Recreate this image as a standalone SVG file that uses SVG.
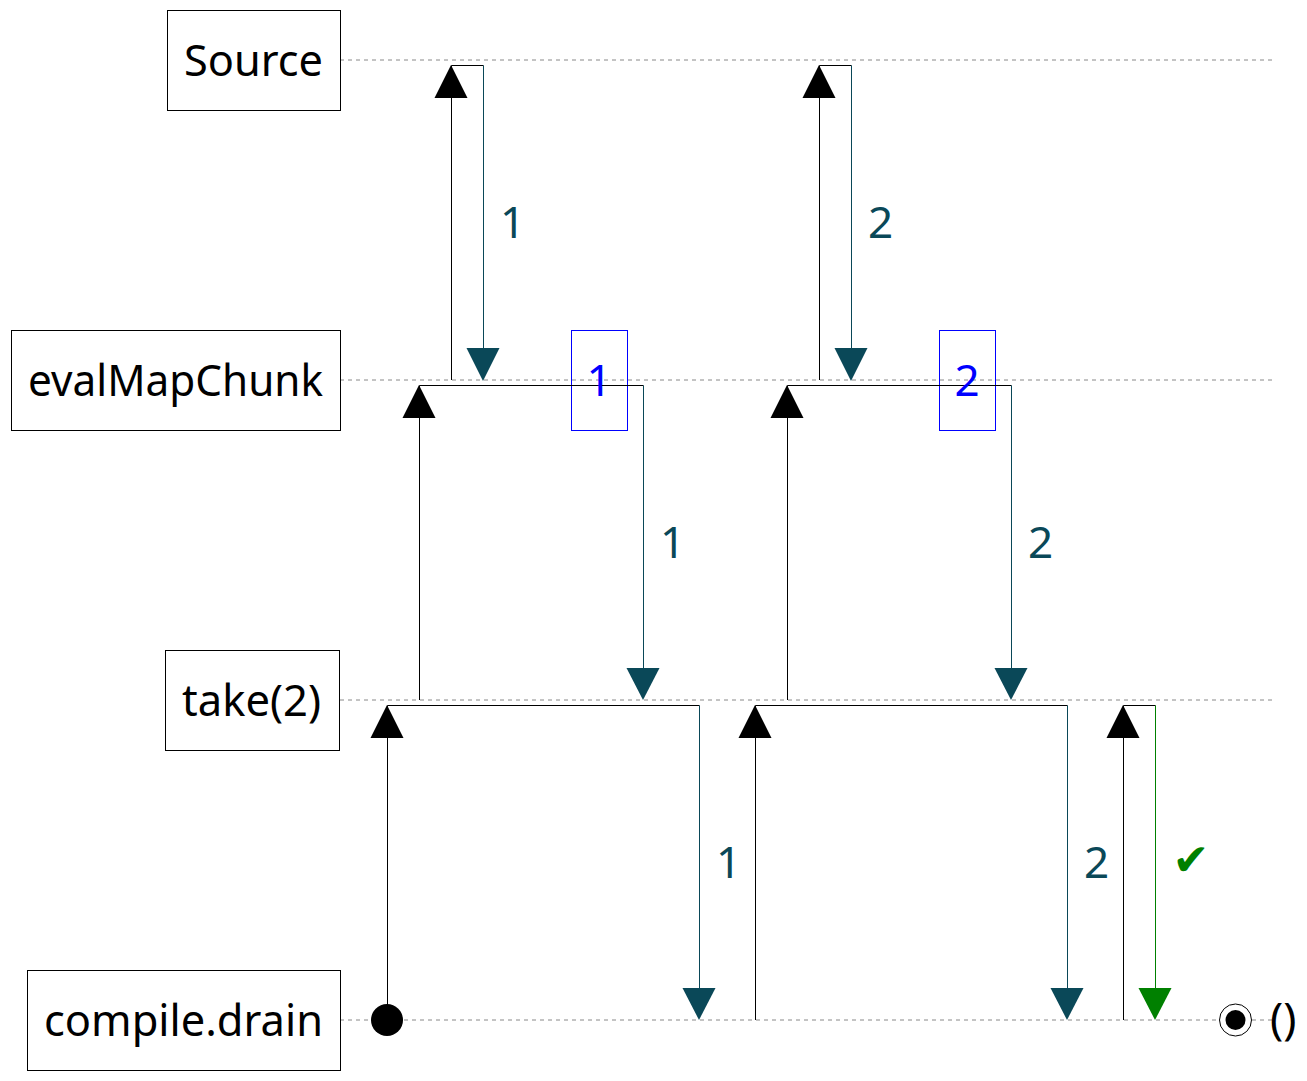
<svg xmlns="http://www.w3.org/2000/svg" width="1307" height="1081" viewBox="0 0 1307 1081">
<style>
.box{fill:#fff;stroke:#000;stroke-width:1}
.nt{font-family:"Noto Sans","Open Sans",sans-serif;font-size:44px;fill:#000;text-anchor:end}
.life{stroke:#888;stroke-width:1;stroke-dasharray:4 4;fill:none}
.up{stroke:#000;stroke-width:1;fill:none}
.dn{stroke:#0a4858;stroke-width:1;fill:none}
.dng{stroke:#008000;stroke-width:1;fill:none}
.ah{fill:#000}
.ahd{fill:#0a4858}
.ahg{fill:#008000}
.lbl{font-family:"Noto Sans","Open Sans",sans-serif;font-size:44px;fill:#0a4858}
.bb{fill:none;stroke:#0000ff;stroke-width:1}
.bt{font-family:"Noto Sans","Open Sans",sans-serif;font-size:44px;fill:#0000ff;text-anchor:middle}
</style>
<rect width="1307" height="1081" fill="#fff"/>
<g id="lifelines">
<line class="life" x1="340" y1="60" x2="1272" y2="60"/>
<line class="life" x1="340" y1="380" x2="1272" y2="380"/>
<line class="life" x1="340" y1="700" x2="1272" y2="700"/>
<line class="life" x1="340" y1="1020" x2="1272" y2="1020"/>
</g>
<g id="node-source"><rect class="box" x="167.5" y="10.5" width="173" height="100"/><text class="nt" x="323" y="76" textLength="139" lengthAdjust="spacingAndGlyphs">Source</text></g>
<g id="node-evalMapChunk"><rect class="box" x="11.5" y="330.5" width="329" height="100"/><text class="nt" x="323" y="396" textLength="295" lengthAdjust="spacingAndGlyphs">evalMapChunk</text></g>
<g id="node-take"><rect class="box" x="165.5" y="650.5" width="174" height="100"/><text class="nt" x="321" y="716" textLength="139" lengthAdjust="spacingAndGlyphs">take(2)</text></g>
<g id="node-drain"><rect class="box" x="27.5" y="970.5" width="313" height="100"/><text class="nt" x="323" y="1036" textLength="279" lengthAdjust="spacingAndGlyphs">compile.drain</text></g>
<g id="chunk-1"><rect class="bb" x="571.5" y="330.5" width="56" height="100"/></g>
<g id="chunk-2"><rect class="bb" x="939.5" y="330.5" width="56" height="100"/></g>
<g id="connectors">
<circle cx="387" cy="1020" r="16" fill="#000"/>
<polyline class="up" points="387.5,1020 387.5,705.5 699.5,705.5"/>
<line class="dn" x1="699.5" y1="705.5" x2="699.5" y2="1000"/>
<polygon class="ah" points="387,705 370.5,738 403.5,738"/>
<polygon class="ahd" points="699,1020 682.5,988 715.5,988"/>
<text class="lbl" x="716" y="878">1</text>

<polyline class="up" points="419.5,700 419.5,385.5 643.5,385.5"/>
<line class="dn" x1="643.5" y1="385.5" x2="643.5" y2="680"/>
<polygon class="ah" points="419,385 402.5,418 435.5,418"/>
<polygon class="ahd" points="643,700 626.5,668 659.5,668"/>
<text class="lbl" x="660" y="558">1</text>

<polyline class="up" points="451.5,380 451.5,65.5 483.5,65.5"/>
<line class="dn" x1="483.5" y1="65.5" x2="483.5" y2="360"/>
<polygon class="ah" points="451,65 434.5,98 467.5,98"/>
<polygon class="ahd" points="483,381 466.5,348 499.5,348"/>
<text class="lbl" x="500" y="238">1</text>

<polyline class="up" points="755.5,1020 755.5,705.5 1067.5,705.5"/>
<line class="dn" x1="1067.5" y1="705.5" x2="1067.5" y2="1000"/>
<polygon class="ah" points="755,705 738.5,738 771.5,738"/>
<polygon class="ahd" points="1067,1020 1050.5,988 1083.5,988"/>
<text class="lbl" x="1084" y="878">2</text>

<polyline class="up" points="787.5,700 787.5,385.5 1011.5,385.5"/>
<line class="dn" x1="1011.5" y1="385.5" x2="1011.5" y2="680"/>
<polygon class="ah" points="787,385 770.5,418 803.5,418"/>
<polygon class="ahd" points="1011,700 994.5,668 1027.5,668"/>
<text class="lbl" x="1028" y="558">2</text>

<polyline class="up" points="819.5,380 819.5,65.5 851.5,65.5"/>
<line class="dn" x1="851.5" y1="65.5" x2="851.5" y2="360"/>
<polygon class="ah" points="819,65 802.5,98 835.5,98"/>
<polygon class="ahd" points="851,381 834.5,348 867.5,348"/>
<text class="lbl" x="868" y="238">2</text>

<polyline class="up" points="1123.5,1020 1123.5,705.5 1155.5,705.5"/>
<line class="dng" x1="1155.5" y1="705.5" x2="1155.5" y2="1000"/>
<polygon class="ah" points="1123,705 1106.5,738 1139.5,738"/>
<polygon class="ahg" points="1155,1020 1138.5,988 1171.5,988"/>
<text x="1191" y="875" font-family="DejaVu Sans,sans-serif" font-size="44" fill="#008000" text-anchor="middle">✔</text>

<circle cx="1235.5" cy="1020" r="16" fill="#fff" stroke="#000" stroke-width="1"/>
<circle cx="1235.5" cy="1020" r="10" fill="#000"/>
<text x="1270" y="1034" font-family="Noto Sans,sans-serif" font-size="44" fill="#000">()</text>
</g>
<g id="chunk-labels">
<text class="bt" x="599" y="396">1</text>
<text class="bt" x="967" y="396">2</text>
</g>
</svg>
